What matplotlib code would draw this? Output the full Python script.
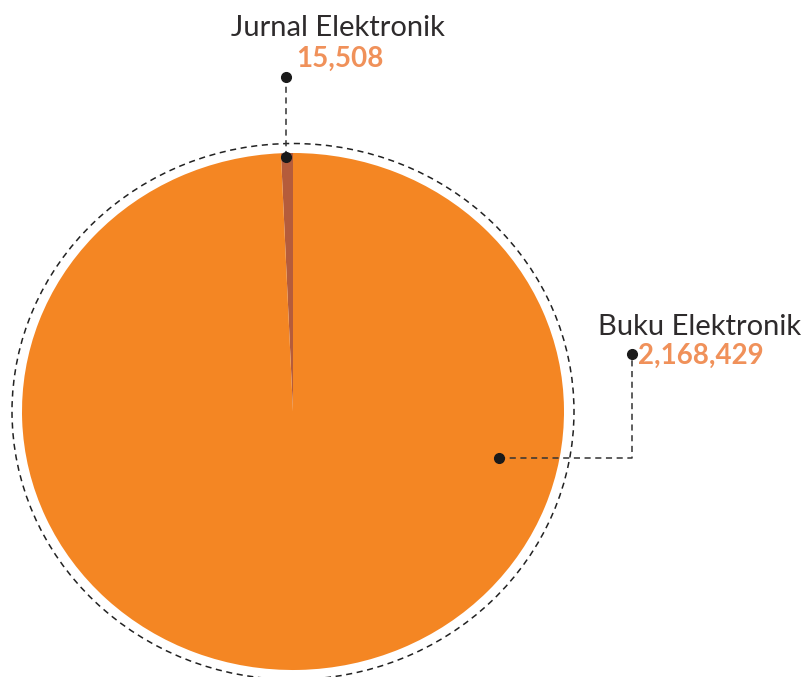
import matplotlib
matplotlib.use("Agg")
import matplotlib.pyplot as plt
from matplotlib.patches import Ellipse

# data
labels = ['Jurnal Elektronik', 'Buku Elektronik']
values = [15508, 2168429]
value_text = ['15,508', '2,168,429']
colors = ['#B55C3B', '#F48623']

W, H = 804, 677
fig = plt.figure(figsize=(W / 100, H / 100), dpi=100)

# pie axes sits on the pie's bounding box (pixels: x 22..564, y 153..670)
pie_ax = fig.add_axes([22 / W, (H - 670) / H, 542 / W, 517 / H])
pie_ax.pie(values, colors=colors, startangle=90, counterclock=True,
           radius=1, wedgeprops=dict(linewidth=0))
pie_ax.set_aspect('auto')
pie_ax.set_xlim(-1, 1)
pie_ax.set_ylim(-1, 1)
pie_ax.axis('off')

# dashed outline ring
ring = Ellipse((0, 0), 2 * 281 / 271, 2 * 268 / 258.5, fill=False,
               edgecolor='#222222', linestyle=(0, (4, 3)), linewidth=1.1,
               clip_on=False)
pie_ax.add_patch(ring)

# overlay for labels and leader lines (pixel coords)
ov = fig.add_axes([0, 0, 1, 1])
ov.set_xlim(0, W)
ov.set_ylim(H, 0)
ov.axis('off')
ov.patch.set_alpha(0)

line_kw = dict(color='#333333', linestyle=(0, (4, 3)), linewidth=1.1)
dot_kw = dict(color='#1a1a1a', markersize=7, marker='o', linestyle='none')

# Jurnal leader
ov.plot([286, 286], [157, 77], **line_kw)
ov.plot([286, 286], [157, 77], **dot_kw)
# Buku leader
ov.plot([499, 632, 632], [458, 458, 354], **line_kw)
ov.plot([499, 632], [458, 354], **dot_kw)

name_kw = dict(fontsize=21, family='Lato', fontweight='normal', color='#2e2b2c')
val_kw = dict(fontsize=20, family='Lato', fontweight='bold', color='#F0915A')

ov.text(338, 28, labels[0], ha='center', va='center', **name_kw)
ov.text(340, 59, value_text[0], ha='center', va='center', **val_kw)
ov.text(700, 327, labels[1], ha='center', va='center', **name_kw)
ov.text(638, 356, value_text[1], ha='left', va='center', **val_kw)

fig.savefig('out.png', dpi=100)
